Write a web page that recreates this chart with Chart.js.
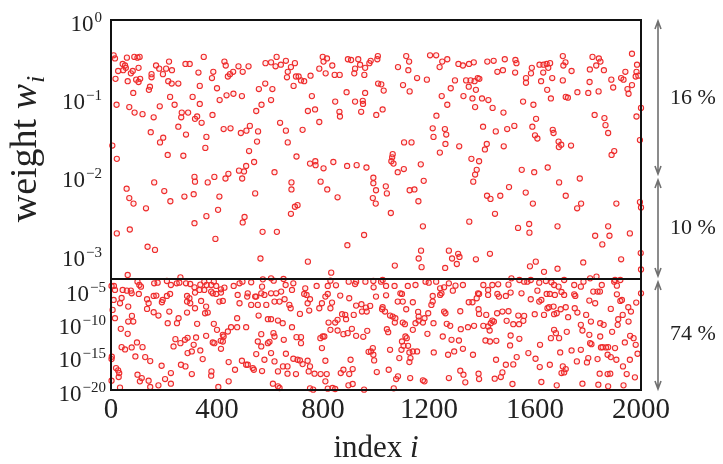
<!DOCTYPE html>
<html>
<head>
<meta charset="utf-8">
<script src="https://cdn.jsdelivr.net/npm/chart.js@4.4.1/dist/chart.umd.min.js"></script>
<style>
html, body { margin: 0; padding: 0; background: #fff; }
#wrap { width: 723px; height: 464px; }
</style>
</head>
<body>
<div id="wrap"><canvas id="chart_weights"></canvas></div>
<script>
var xTicks = [0, 400, 800, 1200, 1600, 2000];
var upperDecades = [0, -1, -2, -3];
var lowerDecades = [-5, -10, -15, -20];
var splitWeight = 5e-4;   // boundary between the two panels
var bandLabels = ['16 %', '10 %', '74 %'];

// upper panel, [index i, log10 w_i]
var upperPoints = [
  [10,-0.45],[15,-0.49],[60,-0.48],[88,-0.47],[100,-0.48],[108,-0.47],[44,-0.56],[53,-0.58],[56,-0.61],[27,-0.65],
  [46,-0.64],[75,-0.68],[82,-0.65],[104,-0.61],[17,-0.75],[63,-0.78],[95,-0.76],[104,-0.79],[110,-0.75],[170,-0.58],
  [182,-0.62],[208,-0.62],[219,-0.53],[230,-0.64],[196,-0.69],[153,-0.69],[153,-0.73],[147,-0.85],[143,-0.89],[216,-0.78],
  [229,-0.81],[254,-0.81],[281,-0.56],[297,-0.56],[350,-0.47],[330,-0.67],[386,-0.66],[381,-0.74],[428,-0.53],[433,-0.58],
  [441,-0.72],[449,-0.69],[461,-0.66],[481,-0.59],[497,-0.66],[519,-0.59],[583,-0.55],[604,-0.54],[621,-0.59],[625,-0.47],
  [641,-0.57],[660,-0.52],[667,-0.66],[664,-0.73],
  [84,-0.93],[21,-1.08],[69,-1.11],[89,-1.18],[119,-1.20],[161,-1.24],[184,-1.10],[223,-0.98],[240,-1.08],[267,-1.18],
  [265,-1.24],[291,-1.18],[308,-0.98],[325,-1.23],[317,-1.26],[335,-1.07],[342,-1.31],[335,-0.84],[383,-1.21],[400,-0.87],
  [410,-1.02],[436,-0.96],[462,-0.94],[494,-0.97],[558,-0.88],[582,-0.81],[609,-0.88],[604,-1.02],[568,-1.08],[548,-1.16],
  [638,-1.31],[660,-1.41],[667,-1.56],[150,-1.43],[197,-1.50],[185,-1.56],[254,-1.36],[283,-1.46],[360,-1.49],[356,-1.63],
  [425,-1.39],[451,-1.38],[490,-1.44],[511,-1.41],[524,-1.35],[555,-1.42],[551,-1.55],[521,-1.67],[5,-1.60],[22,-1.77],
  [214,-1.72],[273,-1.73],
  [540,-1.81],[510,-1.86],[502,-1.93],[483,-1.92],[495,-2.02],[443,-1.96],[432,-2.02],[390,-2.00],[365,-2.07],[315,-2.00],
  [317,-2.06],[163,-2.07],[201,-2.18],[59,-2.15],[69,-2.27],[85,-2.34],[224,-2.31],[277,-2.25],[312,-2.22],[409,-2.25],
  [544,-2.21],[617,-1.94],[132,-2.40],[404,-2.42],[360,-2.50],[504,-2.51],[497,-2.58],[315,-2.59],[22,-2.72],[71,-2.67],
  [572,-2.70],[626,-2.70],[138,-2.89],[166,-2.93],[394,-2.79],[564,-3.04],[63,-3.25],[262,-3.28],
  [694,-0.55],[679,-0.60],[698,-0.72],[708,-0.72],[717,-0.77],[729,-0.78],[753,-0.71],[689,-0.84],[799,-0.47],[802,-0.53],
  [815,-0.49],[786,-0.62],[810,-0.68],[835,-0.58],[844,-0.70],[863,-0.70],[894,-0.50],[906,-0.51],[933,-0.50],[940,-0.57],
  [921,-0.62],[918,-0.68],[956,-0.70],[959,-0.61],[975,-0.55],[980,-0.52],[1007,-0.46],[1005,-0.50],[1083,-0.60],[1114,-0.46],
  [1125,-0.53],[1122,-0.64],[1155,-0.74],[1192,-0.76],[1204,-0.45],[1227,-0.45],[1250,-0.53],[1269,-0.50],[1240,-0.60],[1311,-0.56],
  [1328,-0.58],[1298,-0.77],[1340,-0.77],[1282,-0.87],[1330,-0.97],[1269,-1.08],
  [1102,-0.83],[1127,-0.91],[1008,-0.81],[1020,-0.82],[1029,-0.90],[959,-0.93],[889,-0.92],[846,-1.04],[921,-1.04],[950,-1.03],
  [951,-1.07],[944,-1.17],[862,-1.17],[864,-1.23],[1001,-1.21],[1025,-1.14],[758,-0.97],[743,-1.16],[770,-1.14],[786,-1.30],
  [723,-1.40],[1248,-0.97],[1228,-1.22],[1214,-1.38],[1217,-1.49],[1260,-1.39],[1265,-1.46],[1262,-1.58],[1314,-1.61],[1241,-1.69],
  [1106,-1.56],[1134,-1.56],[700,-1.74],[751,-1.83],[771,-1.80],[772,-1.85],[802,-1.89],[839,-1.81],[891,-1.86],[927,-1.85],
  [964,-1.88],[1063,-1.71],[1061,-1.75],[1058,-1.80],[1066,-1.83],[1082,-1.94],[1105,-1.90],[1169,-1.84],[1180,-2.05],[681,-2.07],
  [681,-2.16],[791,-2.06],[816,-2.16],[855,-2.26],[990,-2.01],[990,-2.08],[1000,-2.17],[1037,-2.12],[1041,-2.21],[988,-2.27],
  [999,-2.34],[1127,-2.17],[1145,-2.16],[1160,-2.31],[694,-2.38],[704,-2.36],[679,-2.47],[1056,-2.46],[1177,-2.63],[955,-2.74],
  [892,-2.87],[743,-3.08],[831,-3.22],[1071,-3.13],[1161,-3.04],[1170,-2.94],[1172,-3.15],[1261,-3.16],[1275,-2.94],[1287,-3.04],
  [1310,-2.98],[1315,-3.02],[1305,-3.11],
  [1351,-0.56],[1369,-0.54],[1420,-0.53],[1444,-0.52],[1486,-0.50],[1526,-0.51],[1530,-0.55],[1458,-0.66],[1479,-0.64],[1525,-0.67],
  [1588,-0.61],[1585,-0.68],[1566,-0.74],[1566,-0.80],[1623,-0.78],[1631,-0.67],[1617,-0.57],[1632,-0.57],[1644,-0.56],[1657,-0.55],
  [1650,-0.61],[1705,-0.46],[1715,-0.54],[1707,-0.58],[1738,-0.65],[1665,-0.74],[1705,-0.77],[1817,-0.47],[1841,-0.49],[1847,-0.53],
  [1831,-0.58],[1807,-0.63],[1860,-0.64],[1966,-0.43],[1985,-0.57],[1983,-0.66],[1990,-0.71],[1980,-0.72],[1941,-0.66],[1925,-0.74],
  [1934,-0.76],[1888,-0.76],[1806,-0.79],[1895,-0.86],[1949,-0.88],[1953,-0.94],[1966,-0.83],[1357,-0.77],[1372,-0.78],[1384,-0.74],
  [1390,-0.75],[1350,-0.85],[1377,-0.89],[1364,-1.00],[1400,-1.00],[1424,-1.02],[1440,-1.12],[1374,-1.11],[1481,-1.18],[1555,-1.04],
  [1594,-1.08],[1646,-0.89],[1660,-1.00],[1716,-0.98],[1724,-0.99],[1760,-0.92],[1801,-0.93],[1840,-0.91],[1825,-1.21],[1862,-1.25],
  [1866,-1.34],[1876,-1.44],[1983,-1.23],[2000,-1.12],
  [1404,-1.36],[1452,-1.42],[1495,-1.39],[1522,-1.35],[1604,-1.26],[1590,-1.36],[1600,-1.47],[1609,-1.51],[1667,-1.40],[1670,-1.44],
  [1689,-1.55],[1699,-1.59],[1690,-1.62],[1736,-1.60],[1482,-1.61],[1418,-1.58],[1411,-1.65],[1360,-1.77],[1389,-1.80],[1380,-1.91],
  [1374,-1.97],[1367,-2.06],[1550,-1.91],[1597,-1.94],[1648,-1.88],[1691,-2.07],[1769,-2.02],[1889,-1.72],[1899,-1.67],[1996,-1.53],
  [1502,-2.13],[1565,-2.20],[1419,-2.24],[1432,-2.28],[1469,-2.24],[1449,-2.47],[1592,-2.34],[1716,-2.24],[1774,-2.34],[1759,-2.40],
  [1907,-2.34],[1996,-2.32],[2000,-2.39],[1352,-2.57],[1536,-2.65],[1578,-2.60],[1579,-2.71],[1685,-2.63],[1876,-2.63],[1881,-2.75],
  [1827,-2.75],[1854,-2.86],[1958,-2.72],[1377,-3.05],[1430,-2.98],[1581,-3.14],[1603,-3.08],[1634,-3.21],[1685,-3.17],[1782,-3.09],
  [1925,-3.05],[1999,-2.97],[2000,-3.18],[1832,-3.27]
];

// lower panel, [index i, log10 w_i]
var lowerPoints = [
  [11,-4.35],[2,-4.35],[15,-4.95],[44,-4.95],[60,-5.05],[75,-5.05],[78,-5.45],[100,-3.70],[107,-4.20],[113,-4.45],
  [105,-5.55],[163,-3.95],[176,-3.85],[211,-3.60],[226,-4.20],[248,-3.95],[258,-3.85],[283,-3.95],[299,-4.05],[315,-4.55],
  [337,-4.15],[352,-3.70],[361,-4.20],[378,-4.20],[388,-3.70],[397,-4.35],[415,-4.85],[428,-4.60],[463,-4.35],[485,-3.95],
  [496,-3.70],[529,-3.80],[573,-3.35],[570,-4.45],[604,-3.20],[614,-3.55],[651,-3.30],[659,-4.20],[642,-5.20],[623,-5.45],
  [604,-5.45],[579,-5.70],[567,-5.45],[548,-5.95],[516,-5.45],[514,-5.95],[478,-5.70],[415,-5.35],[378,-5.20],[352,-4.95],
  [334,-4.95],[317,-5.35],[10,-6.45],[6,-7.95],[15,-9.20],[34,-6.95],[40,-6.15],[65,-7.45],[79,-8.85],[65,-9.70],
  [84,-9.70],[136,-6.35],[142,-6.95],[161,-5.85],[171,-5.80],[136,-7.80],[161,-8.30],[179,-8.80],[195,-6.45],[211,-5.85],
  [223,-5.55],[192,-6.80],[220,-8.20],[249,-9.95],[255,-9.20],[287,-5.85],[296,-6.20],[287,-6.70],[299,-6.95],[287,-8.35],
  [317,-7.70],[340,-6.60],[359,-7.45],[365,-8.35],[355,-8.45],[409,-6.70],[422,-6.60],[384,-5.45],[397,-5.55],[485,-6.95],
  [529,-7.20],[554,-7.20],[544,-5.95],[586,-7.20],[617,-6.70],[636,-6.70],[655,-6.35],[557,-8.80],[592,-9.35],[604,-9.35],
  [630,-9.55],[37,-10.80],[63,-11.55],[214,-9.95],[325,-10.05],[388,-10.05],[400,-10.95],[422,-11.70],[425,-11.95],[414,-12.60],
  [441,-11.20],[453,-10.55],[476,-9.20],[476,-10.55],[510,-10.55],[567,-11.60],[613,-11.45],[617,-11.95],[652,-12.45],[648,-9.95],
  [40,-13.55],[53,-13.90],[78,-13.60],[98,-12.85],[119,-13.55],[92,-14.95],[129,-15.05],[148,-15.65],[3,-15.00],[2,-15.35],
  [19,-16.70],[27,-17.05],[31,-17.45],[29,-18.05],[2,-18.60],[34,-19.65],[191,-16.35],[226,-17.45],[236,-13.45],[243,-12.35],
  [262,-12.95],[279,-12.45],[289,-12.15],[321,-12.10],[312,-13.20],[289,-14.45],[305,-14.20],[337,-14.05],[346,-15.35],[359,-11.85],
  [384,-12.85],[390,-12.95],[415,-13.80],[422,-12.70],[444,-15.80],[468,-16.95],[494,-15.60],[510,-16.20],[516,-16.20],[535,-16.70],
  [539,-16.95],[548,-14.60],[554,-12.70],[567,-13.45],[579,-15.45],[592,-12.95],[598,-12.75],[604,-14.45],[617,-15.70],[630,-17.20],
  [649,-16.45],[264,-16.20],[281,-16.45],[305,-17.60],[379,-17.20],[378,-17.85],[100,-17.70],[116,-18.20],[109,-18.70],[142,-18.60],
  [148,-19.55],[179,-19.30],[204,-18.35],[226,-19.05],[405,-19.55],[444,-18.70],[570,-17.15],[611,-19.05],[630,-19.45],[636,-19.70],
  [688,-3.95],[683,-4.95],[733,-4.70],[776,-4.35],[818,-4.35],[828,-3.55],[849,-4.25],[897,-3.70],[921,-4.05],[925,-3.70],
  [960,-3.70],[990,-3.60],[991,-4.55],[1019,-3.70],[1025,-3.45],[1038,-4.35],[1070,-4.35],[1120,-4.35],[1149,-4.20],[1187,-3.70],
  [1199,-3.85],[1227,-3.70],[1242,-4.70],[1257,-4.55],[1275,-3.95],[1300,-4.30],[1328,-4.20],[1290,-5.05],[1242,-5.70],[1247,-5.45],
  [1214,-5.85],[1098,-5.55],[1092,-5.45],[1038,-5.75],[1000,-5.95],[899,-6.20],[865,-5.80],[818,-5.55],[809,-5.95],[751,-6.35],
  [742,-6.95],[729,-5.55],[738,-5.70],[796,-6.95],[786,-7.70],[828,-7.70],[834,-6.85],[925,-7.30],[945,-7.10],[962,-7.60],
  [965,-8.20],[947,-8.20],[1025,-7.55],[1023,-7.85],[1034,-8.20],[1063,-8.95],[1082,-6.70],[1101,-6.70],[1139,-6.80],[1114,-7.85],
  [1159,-8.25],[1161,-8.95],[1177,-9.85],[1183,-9.20],[1197,-8.45],[1209,-7.20],[1214,-6.70],[1257,-8.20],[1262,-8.45],[1318,-8.15],
  [673,-7.20],[678,-7.70],[713,-8.55],[748,-8.05],[855,-9.45],[846,-9.85],[872,-8.60],[884,-8.70],[887,-9.35],[916,-8.70],
  [978,-7.35],[821,-9.85],[828,-10.95],[855,-11.05],[683,-10.55],[700,-12.05],[717,-12.05],[717,-12.95],[790,-12.20],[799,-11.95],
  [805,-11.95],[877,-11.60],[893,-11.45],[909,-10.80],[925,-11.85],[952,-12.00],[967,-11.10],[1041,-10.85],[1046,-11.30],[1053,-8.80],
  [1073,-9.20],[1071,-9.85],[1101,-9.85],[1109,-10.10],[1139,-10.95],[1149,-9.95],[1161,-9.55],[1194,-11.55],[1217,-9.95],[1252,-11.95],
  [1267,-10.05],[1280,-10.35],[1285,-12.45],[1313,-12.55],[1320,-10.85],[1098,-12.70],[1104,-13.35],[1116,-12.20],[1111,-11.95],[1121,-13.35],
  [1096,-13.95],[1126,-14.35],[1139,-14.20],[1155,-14.20],[1130,-15.20],[1088,-15.20],[1126,-15.80],[1053,-13.95],[988,-13.70],[981,-14.20],
  [972,-14.25],[990,-14.70],[993,-15.55],[904,-15.45],[809,-15.60],[796,-13.70],[660,-14.55],[688,-15.30],[704,-15.45],[713,-15.55],
  [723,-16.10],[742,-15.60],[751,-16.45],[666,-16.45],[666,-17.55],[698,-17.60],[746,-17.20],[768,-17.55],[791,-17.60],[814,-17.60],
  [809,-18.70],[867,-17.45],[877,-16.95],[899,-17.60],[912,-16.85],[1003,-17.30],[1048,-16.95],[1076,-18.35],[1083,-17.95],[1129,-18.20],
  [1177,-18.55],[1183,-18.70],[1275,-18.20],[1318,-17.10],[1330,-17.70],[1218,-14.35],[1272,-14.70],[1295,-14.20],[1328,-13.80],[751,-19.75],
  [763,-19.95],[818,-19.80],[836,-19.70],[846,-19.85],[896,-19.30],[912,-19.10],[955,-19.95],[1067,-19.75],
  [1385,-5.45],[1405,-4.20],[1423,-4.95],[1439,-4.20],[1461,-4.10],[1500,-4.15],[1511,-3.20],[1541,-3.45],[1559,-3.70],[1571,-3.70],
  [1584,-3.45],[1616,-3.85],[1641,-3.60],[1662,-3.80],[1672,-4.20],[1689,-4.45],[1710,-3.45],[1748,-4.20],[1783,-3.70],[1808,-3.20],
  [1852,-4.20],[1899,-3.70],[1909,-4.30],[1902,-3.45],[1922,-3.45],[2000,-5.45],[1350,-6.80],[1364,-6.80],[1380,-6.20],[1389,-5.55],
  [1423,-5.70],[1458,-5.55],[1464,-5.95],[1490,-5.85],[1508,-5.35],[1549,-5.45],[1584,-6.35],[1609,-5.05],[1616,-6.70],[1624,-6.45],
  [1644,-5.55],[1656,-5.55],[1675,-5.70],[1700,-5.25],[1710,-5.70],[1748,-5.60],[1752,-5.85],[1773,-4.45],[1820,-5.20],[1836,-5.20],
  [1845,-5.20],[1805,-6.55],[1827,-6.95],[1909,-5.60],[1922,-6.60],[1928,-6.45],[1982,-6.85],[1886,-7.80],[1952,-7.55],[1962,-8.20],
  [1931,-8.70],[1914,-9.35],[1912,-10.20],[1891,-11.25],[1953,-9.70],[1959,-11.85],[1939,-12.85],[1972,-12.20],[1980,-13.20],[1987,-14.55],
  [1387,-7.85],[1389,-8.55],[1416,-8.70],[1457,-8.45],[1477,-8.20],[1500,-8.15],[1537,-8.80],[1559,-8.85],[1599,-8.60],[1634,-8.70],
  [1647,-7.70],[1653,-7.55],[1670,-7.45],[1682,-8.45],[1672,-8.60],[1697,-7.85],[1716,-7.55],[1750,-7.70],[1760,-8.35],[1793,-8.70],
  [1811,-9.70],[1846,-9.95],[1859,-10.20],[1725,-9.05],[1347,-10.55],[1370,-10.35],[1405,-10.35],[1423,-10.45],[1433,-9.95],[1445,-9.70],
  [1439,-9.55],[1429,-11.05],[1493,-9.60],[1518,-10.10],[1540,-10.10],[1556,-9.60],[1773,-10.20],[1779,-11.05],[1805,-11.70],[1846,-11.95],
  [1672,-10.95],[1679,-11.45],[1720,-11.25],[1691,-12.20],[1660,-12.20],[1541,-12.30],[1508,-11.80],[1413,-12.55],[1430,-12.70],[1454,-12.60],
  [1506,-13.30],[1619,-13.20],[1773,-13.95],[1808,-12.95],[1813,-13.10],[1849,-13.60],[1855,-13.55],[1868,-13.60],[1876,-13.55],[1902,-13.70],
  [1738,-14.05],[1695,-14.35],[1575,-14.45],[1366,-14.70],[1453,-15.45],[1531,-15.05],[1490,-16.20],[1602,-15.30],[1656,-16.20],[1705,-16.45],
  [1716,-16.85],[1710,-17.35],[1700,-17.45],[1618,-16.55],[1758,-15.70],[1796,-15.85],[1801,-15.20],[1836,-15.35],[1874,-14.70],[1886,-15.05],
  [1907,-15.45],[1932,-16.45],[1958,-15.45],[1387,-17.55],[1389,-18.35],[1448,-18.30],[1471,-18.05],[1477,-17.35],[1518,-16.15],[1337,-18.85],
  [1515,-19.10],[1624,-18.80],[1682,-19.30],[1779,-19.05],[1839,-19.20],[1876,-19.45],[1934,-19.30],[1977,-18.10],[1844,-17.55],[1874,-17.60],
  [1884,-17.55],[1946,-17.60]
];

var SERIF = '"Liberation Serif", "Times New Roman", Times, serif';
var RED = '#ee2c2c';

function toXY(list) {
  return list.map(function (p) { return { x: p[0], y: Math.pow(10, p[1]) }; });
}

function drawPow(ctx, xRight, y, exp) {
  var sup = exp === 0 ? '0' : '\u2212' + Math.abs(exp);
  ctx.font = '23px ' + SERIF;
  var wb = ctx.measureText('10').width;
  ctx.font = '15px ' + SERIF;
  var ws = ctx.measureText(sup).width;
  var x0 = xRight - ws - wb - 1;
  ctx.textAlign = 'left';
  ctx.textBaseline = 'alphabetic';
  ctx.font = '23px ' + SERIF;
  ctx.fillText('10', x0, y + 10.5);
  ctx.font = '15px ' + SERIF;
  ctx.fillText(sup, x0 + wb + 1, y + 1.5);
}

function drawArrow(ctx, x, y1, y2) {
  ctx.beginPath();
  ctx.moveTo(x, y1);
  ctx.lineTo(x, y2);
  ctx.moveTo(x - 3, y1 + 8); ctx.lineTo(x, y1); ctx.lineTo(x + 3, y1 + 8);
  ctx.moveTo(x - 3, y2 - 8); ctx.lineTo(x, y2); ctx.lineTo(x + 3, y2 - 8);
  ctx.stroke();
}

var decorPlugin = {
  id: 'decor',
  afterDraw: function (chart) {
    var ctx = chart.ctx;
    var a = chart.chartArea;
    var yt = chart.scales.yTop, yb = chart.scales.yBot;
    ctx.save();
    // frame and panel split
    ctx.strokeStyle = '#111';
    ctx.lineWidth = 2;
    ctx.strokeRect(a.left, a.top, a.right - a.left, a.bottom - a.top);
    var ySplit = yt.getPixelForValue(splitWeight);
    ctx.beginPath();
    ctx.moveTo(a.left, ySplit);
    ctx.lineTo(a.right, ySplit);
    ctx.stroke();

    // y tick labels
    ctx.fillStyle = '#222';
    upperDecades.forEach(function (e) { drawPow(ctx, a.left - 9, yt.getPixelForValue(Math.pow(10, e)), e); });
    lowerDecades.forEach(function (e) { drawPow(ctx, a.left - 5, yb.getPixelForValue(Math.pow(10, e)), e); });

    // band arrows on the right
    var xa = a.right + 17;
    var y0 = yt.getPixelForValue(1), y2 = yt.getPixelForValue(1e-2);
    var y20 = yb.getPixelForValue(1e-20);
    ctx.strokeStyle = '#707070';
    ctx.lineWidth = 1.6;
    drawArrow(ctx, xa, y0 + 1, y2 - 3);
    drawArrow(ctx, xa, y2 + 3, ySplit - 3);
    drawArrow(ctx, xa, ySplit + 3, y20 - 1);

    ctx.fillStyle = '#222';
    ctx.font = '22px ' + SERIF;
    ctx.textAlign = 'left';
    ctx.textBaseline = 'middle';
    ctx.fillText(bandLabels[0], a.right + 29, (y0 + y2) / 2);
    ctx.fillText(bandLabels[1], a.right + 29, (y2 + ySplit) / 2);
    ctx.fillText(bandLabels[2], a.right + 29, (ySplit + y20) / 2);

    // x title: index i
    ctx.textBaseline = 'alphabetic';
    ctx.font = '31px ' + SERIF;
    var w1 = ctx.measureText('index ').width;
    ctx.font = 'italic 31px ' + SERIF;
    var w2 = ctx.measureText('i').width;
    var xc = (a.left + a.right) / 2 - (w1 + w2) / 2;
    ctx.font = '31px ' + SERIF;
    ctx.fillText('index ', xc, 457);
    ctx.font = 'italic 31px ' + SERIF;
    ctx.fillText('i', xc + w1, 457);

    // y title: weight w_i, centred on the upper panel
    ctx.translate(36, (yt.top + yt.bottom) / 2);
    ctx.rotate(-Math.PI / 2);
    ctx.font = '38px ' + SERIF;
    var v1 = ctx.measureText('weight ').width;
    ctx.font = 'italic 38px ' + SERIF;
    var v2 = ctx.measureText('w').width;
    ctx.font = 'italic 26px ' + SERIF;
    var v3 = ctx.measureText('i').width;
    var s = -(v1 + v2 + v3) / 2;
    ctx.font = '38px ' + SERIF;
    ctx.fillText('weight ', s, 0);
    ctx.font = 'italic 38px ' + SERIF;
    ctx.fillText('w', s + v1, 0);
    ctx.font = 'italic 26px ' + SERIF;
    ctx.fillText('i', s + v1 + v2 + 1, 8);
    ctx.restore();
  }
};

var pointStyle = {
  showLine: false,
  pointRadius: 2.6,
  pointBorderWidth: 1.1,
  pointBorderColor: RED,
  pointBackgroundColor: 'rgba(255,90,90,0.12)',
  clip: false
};

function makeChart() {
  return new Chart(document.getElementById('chart_weights'), {
    type: 'scatter',
    data: {
      datasets: [
        Object.assign({ label: 'upper', data: toXY(upperPoints), yAxisID: 'yTop' }, pointStyle),
        Object.assign({ label: 'lower', data: toXY(lowerPoints), yAxisID: 'yBot' }, pointStyle)
      ]
    },
    options: {
      animation: false,
      responsive: true,
      maintainAspectRatio: false,
      layout: { padding: { top: 20, right: 82, left: 0, bottom: 0 } },
      plugins: {
        legend: { display: false },
        tooltip: { enabled: false }
      },
      scales: {
        x: {
          type: 'linear',
          min: 0,
          max: 2000,
          afterFit: function (s) { s.height = 74; },
          afterBuildTicks: function (s) { s.ticks = xTicks.map(function (v) { return { value: v }; }); },
          grid: { display: false, drawTicks: false },
          border: { display: false },
          ticks: {
            autoSkip: false,
            maxRotation: 0,
            padding: 3,
            color: '#222',
            font: { family: SERIF, size: 29 },
            callback: function (v) { return String(v); }
          }
        },
        // lower panel listed first so that the stack puts it underneath
        yBot: {
          type: 'logarithmic',
          position: 'left',
          stack: 'w',
          stackWeight: 111,
          min: 1e-20,
          max: splitWeight,
          afterFit: function (s) { s.width = 111; },
          grid: { display: false, drawTicks: false },
          border: { display: false },
          ticks: { display: false }
        },
        yTop: {
          type: 'logarithmic',
          position: 'left',
          stack: 'w',
          stackWeight: 259,
          min: splitWeight,
          max: 1,
          afterFit: function (s) { s.width = 111; },
          grid: { display: false, drawTicks: false },
          border: { display: false },
          ticks: { display: false }
        }
      }
    },
    plugins: [decorPlugin]
  });
}

var chart_weights = null;
if (document.fonts && document.fonts.load) {
  Promise.all([
    document.fonts.load('23px "Liberation Serif"'),
    document.fonts.load('italic 23px "Liberation Serif"')
  ]).then(function () { chart_weights = makeChart(); }, function () { chart_weights = makeChart(); });
} else {
  chart_weights = makeChart();
}
</script>
</body>
</html>
